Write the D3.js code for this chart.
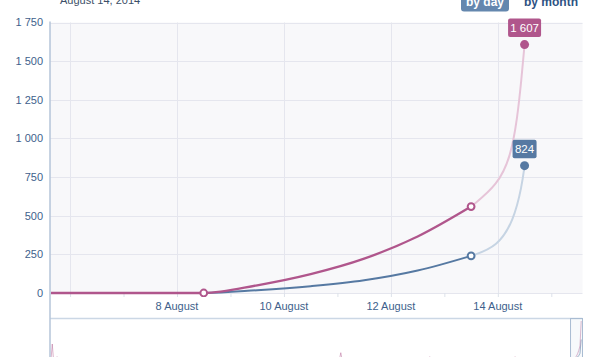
<!DOCTYPE html>
<html><head><meta charset="utf-8">
<script src="https://cdn.jsdelivr.net/npm/d3@7"></script>
<style>
html,body{margin:0;padding:0;background:#fff;overflow:hidden}
svg{display:block;font-family:"Liberation Sans",Arial,sans-serif}
</style></head>
<body>
<svg id="c" width="597" height="357"></svg>
<script>
// ---- data ----
const titleText = "August 14, 2014";
const buttonLabels = ["by day", "by month"];
const yTicks = [0, 250, 500, 750, 1000, 1250, 1500, 1750];
const dayTicks = ["2014-08-06","2014-08-07","2014-08-08","2014-08-09","2014-08-10","2014-08-11","2014-08-12","2014-08-13","2014-08-14","2014-08-15"];
const gridDays = ["2014-08-06","2014-08-08","2014-08-10","2014-08-12","2014-08-14"];
const labelDays = ["2014-08-08","2014-08-10","2014-08-12","2014-08-14"];
const labelTexts = ["8 August","10 August","12 August","14 August"];

const solidDates = ["2014-08-05 12:00","2014-08-06 12:00","2014-08-07 12:00","2014-08-08 12:00","2014-08-09 12:00","2014-08-10 12:00","2014-08-11 12:00","2014-08-12 12:00","2014-08-13 12:00"];
const pinkSolid = [0,0,0,0,50,122,222,365,559];
const blueSolid = [0,0,0,0,18,44,82,145,240];

const pinkFadedDates = ["2014-08-13 12:00","2014-08-14 00:00","2014-08-14 05:45","2014-08-14 08:40","2014-08-14 10:35","2014-08-14 12:00"];
const pinkFaded = [559,700,883,1121,1380,1607];
const blueFadedDates = ["2014-08-13 12:00","2014-08-14 00:00","2014-08-14 07:10","2014-08-14 10:45","2014-08-14 12:00"];
const blueFaded = [240,300,473,689,824];

const openMarkerDates = ["2014-08-08 12:00","2014-08-13 12:00"];
const pinkOpen = [0,559];
const blueOpen = [0,240];
const lastDate = "2014-08-14 12:00";
const pinkLast = 1607, blueLast = 824;

const navDates = ["2013-05-30","2013-05-31","2013-06-01","2013-06-03","2013-06-04","2013-06-05","2013-08-01","2013-08-02","2013-08-03","2014-01-25","2014-01-26","2014-01-27","2014-04-09","2014-04-10","2014-04-11","2014-06-19","2014-06-20","2014-06-21","2014-08-08","2014-08-09","2014-08-10","2014-08-11","2014-08-12","2014-08-13","2014-08-14"];
const navPink = [0,634,0,0,97,0,0,85,0,0,266,0,0,97,0,0,97,0,0,50,122,222,365,559,1607];
const navBlue = [0,0,0,0,0,0,0,0,0,0,0,0,0,0,0,0,0,0,0,18,44,82,145,240,824];

// ---- setup ----
const pT = d3.timeParse("%Y-%m-%d %H:%M");
const pD = d3.timeParse("%Y-%m-%d");
const svg = d3.select("#c");
const PINK = "#b0568c", BLUE = "#5679a2";
const PINK_F = "#e6c4d8", BLUE_F = "#c6d4e3";
const TXT = "#3e5f8c";
const L = 50, R = 582.5, T = 22.5, B = 293;

const x = d3.scaleTime().domain([pT("2014-08-05 15:00"), pT("2014-08-15 14:00")]).range([L, R]);
const y = d3.scaleLinear().domain([0, 1750]).range([B, T]);
const loc = d3.formatLocale({decimal: ".", thousands: " ", grouping: [3], currency: ["", ""]});
const fmt = loc.format(",");

// background
svg.append("rect").attr("x", L).attr("y", T).attr("width", R - L).attr("height", B - T).attr("fill", "#f8f8fa");

// horizontal grid
svg.append("g").selectAll("line").data(yTicks).join("line")
  .attr("x1", L).attr("x2", R).attr("y1", d => Math.round(y(d)) + 0.5).attr("y2", d => Math.round(y(d)) + 0.5)
  .attr("stroke", "#e5e6ee").attr("stroke-width", 1);
// vertical grid
svg.append("g").selectAll("line").data(gridDays.map(pD)).join("line")
  .attr("x1", d => Math.round(x(d)) + 0.5).attr("x2", d => Math.round(x(d)) + 0.5).attr("y1", T).attr("y2", B)
  .attr("stroke", "#e5e6ee").attr("stroke-width", 1);

// y labels
svg.append("g").selectAll("text").data(yTicks).join("text")
  .attr("x", 43).attr("y", d => y(d)).attr("dy", "0.36em").attr("text-anchor", "end")
  .attr("font-size", 11).attr("fill", TXT).text(d => fmt(d));

// x axis ticks + labels
const xAxis = d3.axisBottom(x).tickValues(dayTicks.map(pD)).tickSize(4).tickSizeOuter(0).tickFormat("");
const gx = svg.append("g").attr("transform", `translate(0,${B})`).call(xAxis);
gx.select(".domain").remove();
gx.selectAll(".tick line").attr("stroke", "#dde2ea");
svg.append("g").selectAll("text").data(labelDays.map(pD)).join("text")
  .attr("x", d => x(d)).attr("y", 310).attr("text-anchor", "middle")
  .attr("font-size", 11).attr("fill", TXT).text((d, i) => labelTexts[i]);

// separator + navigator
svg.append("line").attr("x1", L).attr("x2", R).attr("y1", 318.5).attr("y2", 318.5).attr("stroke", "#cbd7e5").attr("stroke-width", 1.5);
const xn = d3.scaleTime().domain([pT("2013-05-29 15:00"), pT("2014-08-15 14:00")]).range([L, R]);
const yn = d3.scaleLinear().domain([0, 1607]).range([359, 321]);
const navLine = d3.line().x(d => xn(d[0])).y(d => yn(d[1]));
const nd = navDates.map(s => pT(s + " 12:00"));
const gnav = svg.append("g");
gnav.append("path").datum(nd.map((d, i) => [d, navBlue[i]])).attr("d", navLine)
  .attr("fill", "none").attr("stroke", BLUE).attr("stroke-width", 1).attr("opacity", 0.6);
gnav.append("path").datum(nd.map((d, i) => [d, navPink[i]])).attr("d", navLine)
  .attr("fill", "none").attr("stroke", PINK).attr("stroke-width", 1).attr("opacity", 0.45);
svg.append("rect").attr("x", xn(x.domain()[0])).attr("y", 318.5)
  .attr("width", R - xn(x.domain()[0])).attr("height", 45)
  .attr("fill", "rgba(190,205,225,0.12)").attr("stroke", "#a9bcd2").attr("stroke-width", 1);

// y axis line
svg.append("line").attr("x1", L).attr("x2", L).attr("y1", T - 1).attr("y2", 357).attr("stroke", "#b5c5d8").attr("stroke-width", 1.5);

// clip
svg.append("clipPath").attr("id", "pc").append("rect").attr("x", L + 1).attr("y", 0).attr("width", R - L).attr("height", B + 4);
const plot = svg.append("g").attr("clip-path", "url(#pc)");
const line = d3.line().x(d => x(d[0])).y(d => y(d[1])).curve(d3.curveMonotoneX);
const fline = d3.line().x(d => x(d[0])).y(d => y(d[1])).curve(d3.curveBasis);
const sd = solidDates.map(pT);
plot.append("path").datum(blueFadedDates.map((d, i) => [pT(d), blueFaded[i]])).attr("d", fline)
  .attr("fill", "none").attr("stroke", BLUE_F).attr("stroke-width", 2);
plot.append("path").datum(pinkFadedDates.map((d, i) => [pT(d), pinkFaded[i]])).attr("d", fline)
  .attr("fill", "none").attr("stroke", PINK_F).attr("stroke-width", 2);
plot.append("path").datum(sd.map((d, i) => [d, blueSolid[i]])).attr("d", line)
  .attr("fill", "none").attr("stroke", BLUE).attr("stroke-width", 2);
plot.append("path").datum(sd.map((d, i) => [d, pinkSolid[i]])).attr("d", line)
  .attr("fill", "none").attr("stroke", PINK).attr("stroke-width", 2.3);

// open markers
const om = openMarkerDates.map(pT);
plot.append("g").selectAll("circle").data(om.map((d, i) => [d, blueOpen[i]]).slice(1)).join("circle")
  .attr("cx", d => x(d[0])).attr("cy", d => y(d[1])).attr("r", 3.4)
  .attr("fill", "#fff").attr("stroke", BLUE).attr("stroke-width", 2);
plot.append("g").selectAll("circle").data(om.map((d, i) => [d, pinkOpen[i]])).join("circle")
  .attr("cx", d => x(d[0])).attr("cy", d => y(d[1])).attr("r", 3.4)
  .attr("fill", "#fff").attr("stroke", PINK).attr("stroke-width", 2);

// final markers + value labels
const ld = pT(lastDate);
[[pinkLast, PINK, 33], [blueLast, BLUE, 24]].forEach(([v, c, w]) => {
  const cx = x(ld), cy = y(v);
  svg.append("circle").attr("cx", cx).attr("cy", cy).attr("r", 4.5).attr("fill", c);
  svg.append("rect").attr("x", cx - w / 2).attr("y", cy - 26).attr("width", w).attr("height", 18.5)
    .attr("rx", 2).attr("fill", c);
  svg.append("text").attr("x", cx).attr("y", cy - 13.1).attr("text-anchor", "middle")
    .attr("font-size", 11.5).attr("fill", "#fff").text(fmt(v));
});

// title (cut off at top, as in the reference)
svg.append("text").attr("x", 60).attr("y", 4).attr("font-size", 11).attr("fill", "#3c4f68").text(titleText);

// buttons
svg.append("rect").attr("x", 461).attr("y", -8).attr("width", 48).attr("height", 19.5).attr("rx", 3).attr("fill", "#6487ae");
svg.append("text").attr("x", 485).attr("y", 6).attr("text-anchor", "middle").attr("font-size", 12)
  .attr("font-weight", "bold").attr("fill", "#fff").text(buttonLabels[0]);
svg.append("text").attr("x", 524).attr("y", 6).attr("font-size", 12)
  .attr("font-weight", "bold").attr("fill", "#2d5283").text(buttonLabels[1]);
</script>
</body></html>
